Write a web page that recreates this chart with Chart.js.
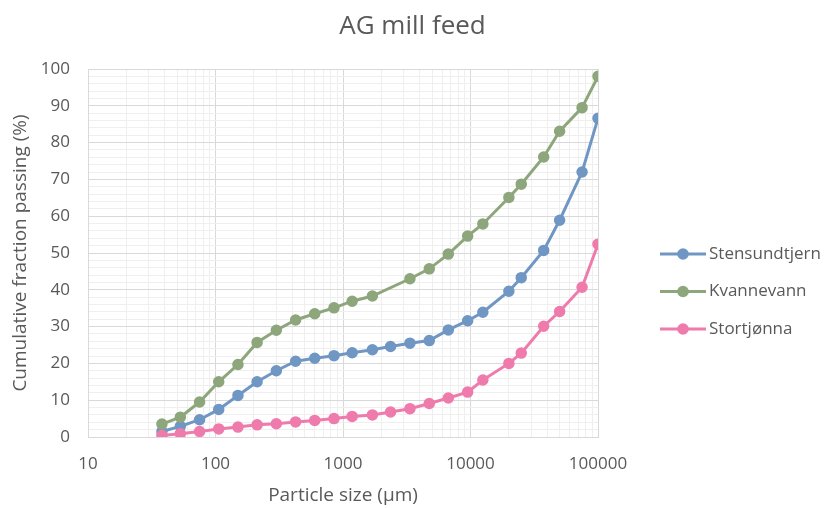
<!DOCTYPE html>
<html>
<head>
<meta charset="utf-8">
<script src="https://cdn.jsdelivr.net/npm/chart.js@4.4.0/dist/chart.umd.min.js"></script>
<style>
  html, body { margin: 0; padding: 0; background: #ffffff; }
  canvas { display: block; }
</style>
</head>
<body>
<canvas id="chart" width="825" height="508"></canvas>
<script>
// sieve sizes in micrometres
const sizes = [38, 53, 75, 106, 150, 212, 300, 425, 600, 850, 1180, 1700, 2360, 3350, 4750, 6700, 9500, 12500, 20000, 25000, 37500, 50000, 75000, 100000];

// cumulative % passing
const stensundtjern = [1.5, 2.9, 4.7, 7.5, 11.3, 15.0, 18.0, 20.6, 21.4, 22.1, 22.9, 23.7, 24.6, 25.5, 26.2, 29.1, 31.6, 33.9, 39.6, 43.3, 50.7, 58.9, 72.0, 86.6];
const kvannevann = [3.5, 5.4, 9.5, 15.0, 19.7, 25.7, 29.0, 31.8, 33.5, 35.1, 36.9, 38.3, null, 43.0, 45.7, 49.7, 54.6, 57.9, 65.1, 68.7, 76.1, 83.1, 89.5, 98.0];
const stortjonna = [0.4, 0.9, 1.5, 2.2, 2.7, 3.3, 3.6, 4.1, 4.5, 5.0, 5.6, 6.0, 6.8, 7.7, 9.1, 10.6, 12.2, 15.5, 20.0, 22.8, 30.1, 34.1, 40.7, 52.4];

const seriesNames = ['Stensundtjern', 'Kvannevann', 'Stortjønna'];
const seriesColors = ['#7097C4', '#8EA67C', '#EF7BAC'];

const xTickValues = [10, 100, 1000, 10000, 100000];
const yTickLabels = [0, 10, 20, 30, 40, 50, 60, 70, 80, 90, 100];

const FONT = '"Open Sans", "Noto Sans", sans-serif';
const TEXT = '#595959';
const GRID_MAJOR = '#d9d9d9';
const GRID_MINOR = '#efefef';

const toPoints = (vals) => sizes.map((s, i) => ({ x: s, y: vals[i] }));

const makeSeries = (label, vals, color, order) => ({
  label,
  data: toPoints(vals),
  borderColor: color,
  backgroundColor: color,
  borderWidth: 3,
  pointRadius: 5,
  pointBorderWidth: 1.5,
  pointBackgroundColor: color,
  pointBorderColor: color,
  tension: 0,
  spanGaps: true,
  order
});

// legend drawn beside the plot, line + marker like the original
const sideLegend = {
  id: 'sideLegend',
  afterDraw(chart) {
    const ctx = chart.ctx;
    ctx.save();
    chart.data.datasets.forEach((ds, i) => {
      const y = 254 + i * 37.5;
      ctx.strokeStyle = ds.borderColor;
      ctx.lineWidth = 3;
      ctx.beginPath();
      ctx.moveTo(660, y);
      ctx.lineTo(706, y);
      ctx.stroke();
      ctx.fillStyle = ds.borderColor;
      ctx.beginPath();
      ctx.arc(683, y, 5.8, 0, Math.PI * 2);
      ctx.fill();
      ctx.fillStyle = TEXT;
      ctx.font = '17px ' + FONT;
      ctx.textBaseline = 'middle';
      ctx.textAlign = 'left';
      ctx.fillText(ds.label, 709, y);
    });
    ctx.restore();
  }
};

new Chart(document.getElementById('chart'), {
  type: 'line',
  data: {
    datasets: [
      makeSeries(seriesNames[0], stensundtjern, seriesColors[0], 3),
      makeSeries(seriesNames[1], kvannevann, seriesColors[1], 2),
      makeSeries(seriesNames[2], stortjonna, seriesColors[2], 1)
    ]
  },
  options: {
    responsive: false,
    animation: false,
    layout: { padding: 0 },
    plugins: {
      legend: { display: false },
      tooltip: { enabled: false },
      title: {
        display: true,
        text: 'AG mill feed',
        color: TEXT,
        font: { family: FONT, size: 26, weight: 'normal' },
        padding: { top: 11, bottom: 26.8 }
      }
    },
    scales: {
      x: {
        type: 'logarithmic',
        min: 10,
        max: 100000,
        afterBuildTicks: (scale) => {
          const ticks = [];
          xTickValues.forEach((d, k) => {
            for (let m = 1; m <= 9; m++) {
              if (k === xTickValues.length - 1 && m > 1) break;
              ticks.push({ value: d * m });
            }
          });
          scale.ticks = ticks;
        },
        afterFit: (scale) => { scale.height = 71; },
        ticks: {
          autoSkip: false,
          maxRotation: 0,
          padding: 17,
          color: TEXT,
          font: { family: FONT, size: 17 },
          callback: (v) => xTickValues.includes(v) ? String(v) : ''
        },
        grid: {
          drawTicks: false,
          color: (c) => xTickValues.includes(c.tick.value) ? GRID_MAJOR : GRID_MINOR
        },
        border: { color: GRID_MAJOR },
        title: {
          display: true,
          text: 'Particle size (μm)',
          color: TEXT,
          font: { family: FONT, size: 19 },
          padding: { top: 4, bottom: 1 }
        }
      },
      y: {
        min: 0,
        max: 100,
        afterFit: (scale) => { scale.width = 88; },
        ticks: {
          stepSize: 2,
          autoSkip: false,
          padding: 18,
          color: TEXT,
          font: { family: FONT, size: 17 },
          callback: (v) => yTickLabels.includes(v) ? String(v) : ''
        },
        grid: {
          drawTicks: false,
          color: (c) => yTickLabels.includes(c.tick.value) ? GRID_MAJOR : GRID_MINOR
        },
        border: { color: GRID_MAJOR },
        title: {
          display: true,
          text: 'Cumulative fraction passing (%)',
          color: TEXT,
          font: { family: FONT, size: 19 },
          padding: { top: 9.6, bottom: 4 }
        }
      },
      // empty band on the right that leaves room for the legend
      yGap: {
        axis: 'y',
        type: 'linear',
        position: 'right',
        display: true,
        grid: { display: false, drawTicks: false },
        border: { display: false },
        ticks: { display: false },
        afterFit: (scale) => { scale.width = 227; }
      }
    }
  },
  plugins: [sideLegend]
});
</script>
</body>
</html>
